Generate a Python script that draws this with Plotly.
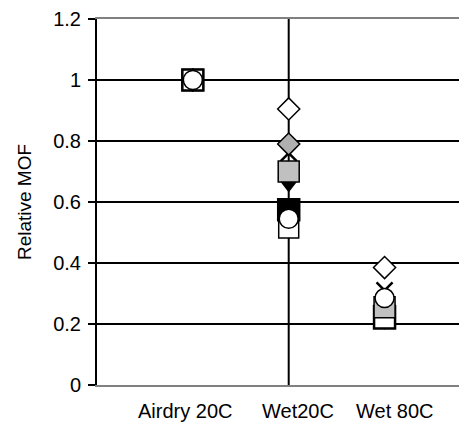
import plotly.graph_objects as go

categories = ["Airdry 20C", "Wet20C", "Wet 80C"]
cat_pos = [1, 2, 3]

s_x = [1.0, 0.76, 0.31]          # X marker
s_tri = [1.0, 0.665, 0.215]      # black triangle down
s_gdia = [1.0, 0.79, 0.26]       # gray diamond
s_bsq = [1.0, 0.575, 0.22]       # black square
s_wsq = [1.0, 0.515, 0.22]       # white square
s_gsq = [1.0, 0.70, 0.255]       # gray square
s_wdia = [1.0, 0.905, 0.385]     # white diamond
s_circ = [1.0, 0.545, 0.285]     # white circle

yticks = [0, 0.2, 0.4, 0.6, 0.8, 1.0, 1.2]
ytick_text = ["0", "0.2", "0.4", "0.6", "0.8", "1", "1.2"]

FONT = "Liberation Sans, Arial"

styles = {
    "x": (s_x, dict(symbol="x-thin", size=16, color="black", line=dict(color="black", width=2.5))),
    "tri": (s_tri, dict(symbol="triangle-down", size=18, color="black", line=dict(color="black", width=1.5))),
    "gdia": (s_gdia, dict(symbol="diamond", size=17, color="#b0b0b0", line=dict(color="black", width=1.5))),
    "bsq": (s_bsq, dict(symbol="square", size=22, color="black", line=dict(color="black", width=1.5))),
    "wsq": (s_wsq, dict(symbol="square", size=20, color="white", line=dict(color="black", width=1.5))),
    "gsq": (s_gsq, dict(symbol="square", size=21, color="#c0c0c0", line=dict(color="black", width=1.5))),
    "wdia": (s_wdia, dict(symbol="diamond", size=17, color="white", line=dict(color="black", width=1.5))),
    "circ": (s_circ, dict(symbol="circle", size=19, color="white", line=dict(color="black", width=1.5))),
}
order_default = ["x", "tri", "gdia", "bsq", "wsq", "gsq", "wdia", "circ"]
order_first = ["x", "tri", "gdia", "gsq", "wdia", "bsq", "wsq", "circ"]

fig = go.Figure()
for i, p in enumerate(cat_pos):
    order = order_first if i == 0 else order_default
    for key in order:
        vals, mk = styles[key]
        fig.add_trace(go.Scatter(x=[p], y=[vals[i]], mode="markers",
                                 showlegend=False, marker=mk, cliponaxis=False))

fig.add_shape(type="line", x0=2, x1=2, y0=0, y1=1.2, xref="x", yref="y",
              line=dict(color="black", width=2), layer="below")

label_offsets = [-0.082, 0.097, 0.108]
for c, p, o in zip(categories, cat_pos, label_offsets):
    fig.add_annotation(x=p + o, y=0, xref="x", yref="paper", text=c,
                       showarrow=False, yshift=-39,
                       font=dict(family=FONT, size=20, color="black"))

fig.update_layout(
    width=459, height=431,
    margin=dict(l=89, r=0, t=9, b=54),
    paper_bgcolor="white", plot_bgcolor="white",
    font=dict(family=FONT, size=20, color="black"),
    xaxis=dict(range=[0, 3.86], showgrid=False, zeroline=False,
               showticklabels=False, ticks="",
               showline=True, linecolor="#808080", linewidth=2, mirror=True),
    yaxis=dict(range=[0, 1.2], tickvals=yticks, ticktext=ytick_text,
               showgrid=True, gridcolor="black", gridwidth=1.5,
               zeroline=False, showline=True, linecolor="black", linewidth=2,
               ticks="outside", ticklen=7, tickcolor="black", tickwidth=1.5,
               ticklabelstandoff=3, ticklabeloverflow="allow",
               title=dict(text="Relative MOF", standoff=17,
                          font=dict(size=19))),
)

fig.write_html("out.html")
